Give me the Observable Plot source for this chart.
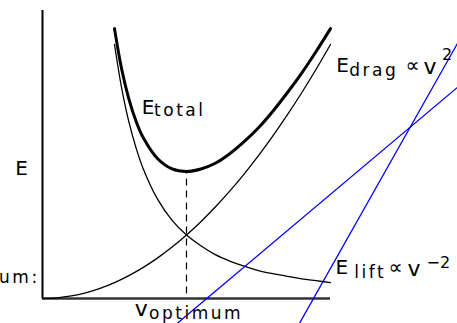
<!DOCTYPE html>
<html>
<head>
<meta charset="utf-8">
<script src="https://cdn.jsdelivr.net/npm/d3@7"></script>
<script src="https://cdn.jsdelivr.net/npm/@observablehq/plot@0.6"></script>
<style>
  html, body { margin: 0; padding: 0; background: #fff; overflow: hidden; }
  svg { overflow: hidden; display: block; }
</style>
</head>
<body>
<div id="chart"></div>
<script>
// speed values (v_optimum = 1) and energies (E at v_optimum = 1)
const vDrag = [0, 0.1, 0.2, 0.3, 0.4, 0.5, 0.6, 0.7, 0.8, 0.9, 1.0, 1.1, 1.2, 1.3, 1.4, 1.5, 1.6, 1.7, 1.8, 1.9, 2.0];
const eDrag = [0, 0.01, 0.04, 0.09, 0.16, 0.25, 0.36, 0.49, 0.64, 0.81, 1.00, 1.21, 1.44, 1.69, 1.96, 2.25, 2.56, 2.89, 3.24, 3.61, 4.00];
const vLift = [0.5, 0.55, 0.6, 0.65, 0.7, 0.8, 0.9, 1.0, 1.1, 1.2, 1.3, 1.4, 1.5, 1.6, 1.7, 1.8, 1.9, 2.0];
const eLift = [4.00, 3.31, 2.78, 2.37, 2.04, 1.56, 1.23, 1.00, 0.83, 0.69, 0.59, 0.51, 0.44, 0.39, 0.35, 0.31, 0.28, 0.25];
const eTotal = [4.25, 3.61, 3.14, 2.79, 2.53, 2.20, 2.04, 2.00, 2.04, 2.13, 2.28, 2.47, 2.69, 2.95, 3.24, 3.55, 3.89, 4.25];
const vOptimum = 1.0;
const eMin = 2.0;
const blueA = [[0.9, -0.46], [2.9, 3.36]];
const blueB = [[1.75, -0.53], [2.9, 4.09]];

// label texts
const mainLabels = [
  {x: -0.19, y: 1.94, t: "E"},
  {x: 0.69, y: 2.91, t: "E"},
  {x: 2.04, y: 3.57, t: "E"},
  {x: 2.52, y: 3.57, t: "∝"},
  {x: 2.035, y: 0.38, t: "E"},
  {x: 2.403, y: 0.38, t: "∝"}
];
const vLabels = [
  {x: 2.645, y: 3.54, t: "v"},
  {x: 2.535, y: 0.36, t: "v"},
  {x: 0.64, y: -0.27, t: "v"}
];
const subLabels = [
  {x: 0.775, y: 2.87, t: "total"},
  {x: 2.13, y: 3.51, t: "drag"},
  {x: 2.165, y: 0.315, t: "lift"},
  {x: 0.74, y: -0.315, t: "optimum"}
];
const supLabels = [
  {x: 2.775, y: 3.76, t: "2"},
  {x: 2.667, y: 0.488, t: "−2"}
];
const cutLabel = [{x: -0.02, y: 0.25, t: "um:"}];
const spacedTexts = ["total", "drag", "lift", "optimum", "um:"];

const drag = vDrag.map((v, i) => ({v, e: eDrag[i]}));
const lift = vLift.map((v, i) => ({v, e: eLift[i]}));
const total = vLift.map((v, i) => ({v, e: eTotal[i]}));

const font = "DejaVu Sans";

const svg = Plot.plot({
  width: 457,
  height: 323,
  margin: 0,
  style: {background: "#fff", fontFamily: font},
  x: {domain: [0, 2], range: [42, 330], axis: null},
  y: {domain: [0, 4], range: [298, 44], axis: null},
  marks: [
    Plot.ruleX([0], {y1: 0, y2: 4.535, stroke: "#000", strokeWidth: 2}),
    Plot.ruleY([0], {x1: 0, x2: 2, stroke: "#333", strokeWidth: 2.5}),
    Plot.ruleX([vOptimum], {y1: 0.07, y2: eMin, stroke: "#000", strokeWidth: 1.2, strokeDasharray: "7,5"}),
    Plot.line(drag, {x: "v", y: "e", curve: "catmull-rom", stroke: "#000", strokeWidth: 1.3}),
    Plot.line(lift, {x: "v", y: "e", curve: "catmull-rom", stroke: "#000", strokeWidth: 1.3}),
    Plot.line(total, {x: "v", y: "e", curve: "catmull-rom", stroke: "#000", strokeWidth: 3}),
    Plot.line(blueA, {x: d => d[0], y: d => d[1], stroke: "#0000ff", strokeWidth: 1.3}),
    Plot.line(blueB, {x: d => d[0], y: d => d[1], stroke: "#0000ff", strokeWidth: 1.3}),
    Plot.text(mainLabels, {x: "x", y: "y", text: "t", textAnchor: "start", lineAnchor: "bottom", fontSize: 20, fill: "#000"}),
    Plot.text(vLabels, {x: "x", y: "y", text: "t", textAnchor: "start", lineAnchor: "bottom", fontSize: 22, fill: "#000"}),
    Plot.text(subLabels, {x: "x", y: "y", text: "t", textAnchor: "start", lineAnchor: "bottom", fontSize: 17, fill: "#000"}),
    Plot.text(supLabels, {x: "x", y: "y", text: "t", textAnchor: "start", lineAnchor: "bottom", fontSize: 16, fill: "#000"}),
    Plot.text(cutLabel, {x: "x", y: "y", text: "t", textAnchor: "end", lineAnchor: "bottom", fontSize: 17, fill: "#000"})
  ]
});

svg.querySelectorAll("text").forEach(el => {
  if (spacedTexts.includes(el.textContent.trim())) {
    el.setAttribute("letter-spacing", "2.5px");
    el.style.letterSpacing = "2.5px";
  }
});
document.getElementById("chart").appendChild(svg);
</script>
</body>
</html>
